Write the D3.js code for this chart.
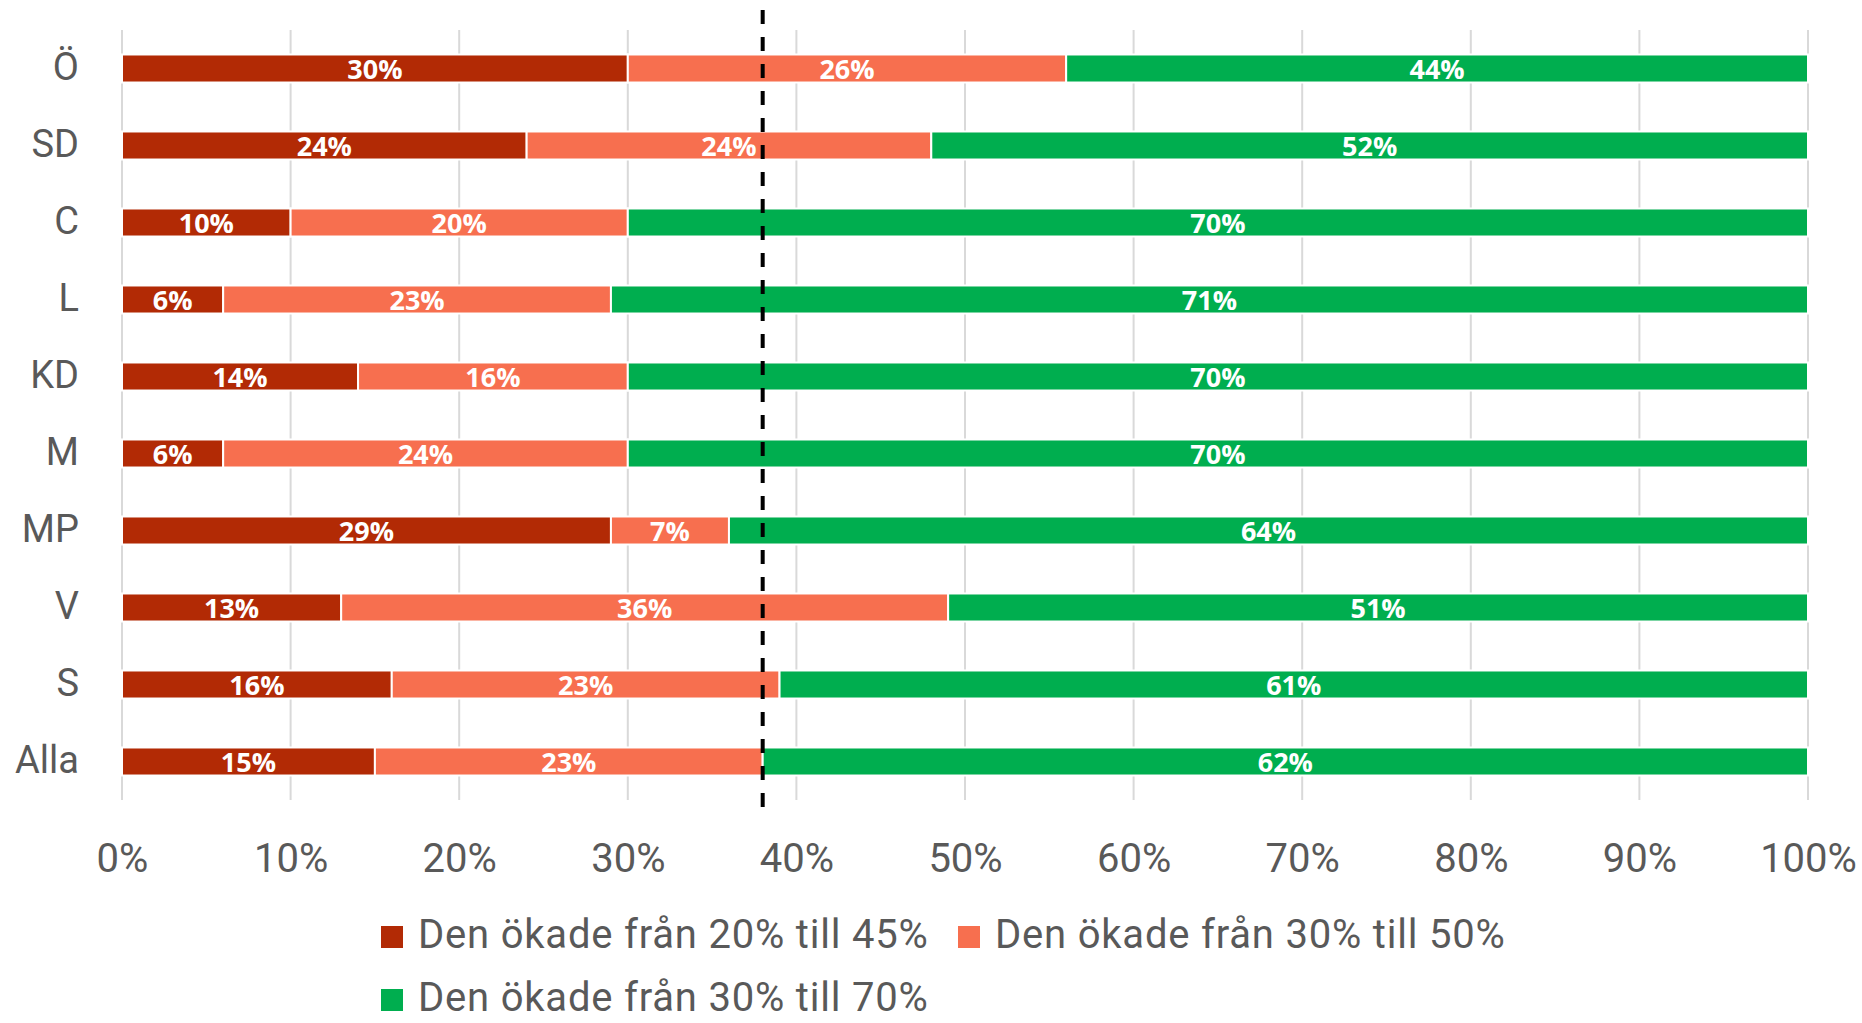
<!DOCTYPE html>
<html>
<head>
<meta charset="utf-8">
<title>Andel partier</title>
<script src="https://cdn.jsdelivr.net/npm/d3@7"></script>
<style>
  body { margin: 0; background: #fff; }
  svg text { font-family: Roboto, "Noto Sans", sans-serif; fill: #595959; }
  .grid line { stroke: #d9d9d9; stroke-width: 2; }
  .seglabel { font-family: "Open Sans", sans-serif; font-weight: 700; fill: #fff; font-size: 27px; }
</style>
</head>
<body>
<div id="chart"></div>
<script>
// kategorier uppifrån och ned
var categories = ["Ö", "SD", "C", "L", "KD", "M", "MP", "V", "S", "Alla"];
var seriesNames = ["Den ökade från 20% till 45%", "Den ökade från 30% till 50%", "Den ökade från 30% till 70%"];
var seriesColors = ["#b22a05", "#f76f4f", "#00ae4f"];

var s1 = [30, 24, 10, 6, 14, 6, 29, 13, 16, 15];
var s2 = [26, 24, 20, 23, 16, 24, 7, 36, 23, 23];
var s3 = [44, 52, 70, 71, 70, 70, 64, 51, 61, 62];

var xTicks = [0, 10, 20, 30, 40, 50, 60, 70, 80, 90, 100];
var refLine = 38;

var W = 1862, H = 1023;
var svg = d3.select("#chart").append("svg").attr("width", W).attr("height", H);

var x = d3.scaleLinear().domain([0, 100]).range([122, 1808]);
var y = d3.scaleBand().domain(categories).range([30, 800]).paddingInner(0.636).paddingOuter(0.318);

// rutnät
svg.append("g").attr("class", "grid")
  .selectAll("line").data(xTicks).enter().append("line")
  .attr("x1", function(d) { return x(d); }).attr("x2", function(d) { return x(d); })
  .attr("y1", 30).attr("y2", 800);

// staplade data
var rows = categories.map(function(c, i) { return { cat: c, v: [s1[i], s2[i], s3[i]] }; });
var stack = d3.stack().keys([0, 1, 2]).value(function(d, k) { return d.v[k]; });
var layers = stack(rows);

var g = svg.selectAll("g.layer").data(layers).enter().append("g").attr("class", "layer")
  .attr("fill", function(d, i) { return seriesColors[i]; });

g.selectAll("rect").data(function(d) { return d; }).enter().append("rect")
  .attr("x", function(d) { return x(d[0]); })
  .attr("width", function(d) { return x(d[1]) - x(d[0]); })
  .attr("y", function(d) { return y(d.data.cat); })
  .attr("height", y.bandwidth())
  .attr("stroke", "#fff").attr("stroke-width", 2);

// streckad linje
svg.append("line")
  .attr("x1", x(refLine)).attr("x2", x(refLine))
  .attr("y1", 10).attr("y2", 810)
  .attr("stroke", "#000").attr("stroke-width", 4)
  .attr("stroke-dasharray", "14,13");

// etiketter i staplarna
g.selectAll("text").data(function(d) { return d; }).enter().append("text")
  .attr("class", "seglabel")
  .attr("text-anchor", "middle")
  .attr("x", function(d) { return (x(d[0]) + x(d[1])) / 2; })
  .attr("y", function(d) { return y(d.data.cat) + y.bandwidth() / 2 + 10; })
  .text(function(d) { return (d[1] - d[0]) + "%"; });

// y-axel
var yAxis = svg.append("g").attr("transform", "translate(79,0)")
  .call(d3.axisLeft(y).tickSize(0).tickPadding(0));
yAxis.select(".domain").remove();
yAxis.selectAll("text").attr("font-size", 38).attr("font-family", null).attr("dy", "0.3em").attr("fill", "#595959");

// x-axel
var xAxis = svg.append("g").attr("transform", "translate(0,800)")
  .call(d3.axisBottom(x).tickValues(xTicks).tickSize(0).tickPadding(0).tickFormat(function(d) { return d + "%"; }));
xAxis.select(".domain").remove();
xAxis.selectAll("text").attr("font-size", 40).attr("font-family", null).attr("dy", null).attr("y", 72).attr("fill", "#595959");

// förklaring
var legendPos = [[381, 948], [958, 948], [381, 1011]];
var leg = svg.selectAll("g.leg").data(seriesNames).enter().append("g").attr("class", "leg")
  .attr("transform", function(d, i) { return "translate(" + legendPos[i][0] + "," + legendPos[i][1] + ")"; });
leg.append("rect").attr("x", 0).attr("y", -22).attr("width", 22).attr("height", 22)
  .attr("fill", function(d, i) { return seriesColors[i]; });
leg.append("text").attr("x", 37).attr("y", 0).attr("font-size", 40)
  .attr("letter-spacing", "0.8px").text(function(d) { return d; });
</script>
</body>
</html>
